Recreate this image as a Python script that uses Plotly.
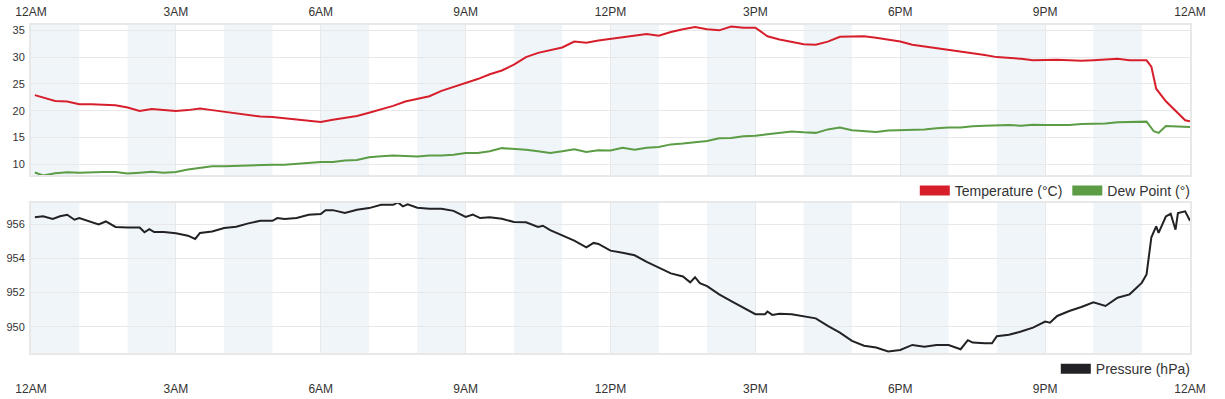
import plotly.graph_objects as go

# ---------------- data ----------------
tick_hours = [0, 3, 6, 9, 12, 15, 18, 21, 24]
tick_labels = ["12AM", "3AM", "6AM", "9AM", "12PM", "3PM", "6PM", "9PM", "12AM"]
shaded_hours = [0, 2, 4, 6, 8, 10, 12, 14, 16, 18, 20, 22]

temp_hours = [0.08, 0.25, 0.5, 0.75, 1.0, 1.25, 1.5, 1.75, 2.0, 2.25, 2.5, 2.75, 3.0, 3.25, 3.5, 3.75,
              4.0, 4.25, 4.5, 4.75, 5.0, 5.25, 5.5, 5.75, 6.0, 6.25, 6.5, 6.75, 7.0, 7.25, 7.5, 7.75,
              8.0, 8.25, 8.5, 8.75, 9.0, 9.25, 9.5, 9.75, 10.0, 10.25, 10.5, 10.75, 11.0, 11.25, 11.5, 11.75,
              12.0, 12.25, 12.5, 12.75, 13.0, 13.25, 13.5, 13.75, 14.0, 14.25, 14.5, 14.75, 15.0, 15.25, 15.5, 15.75,
              16.0, 16.25, 16.5, 16.75, 17.0, 17.25, 17.5, 17.75, 18.0, 18.25, 18.5, 18.75, 19.0, 19.25, 19.5, 19.75,
              20.0, 20.25, 20.5, 20.75, 21.0, 21.25, 21.5, 21.75, 22.0, 22.25, 22.5, 22.75, 23.0, 23.1, 23.2, 23.3,
              23.5, 23.75, 23.9, 24.0]
temperature = [22.9, 22.4, 21.8, 21.7, 21.2, 21.2, 21.1, 21.0, 20.6, 19.95, 20.3, 20.1, 19.95, 20.1, 20.4, 20.1,
               19.8, 19.6, 19.3, 18.9, 18.8, 18.6, 18.3, 18.1, 17.9, 18.3, 18.6, 19.0, 19.6, 20.2, 20.9, 21.7,
               22.2, 22.7, 23.7, 24.4, 25.2, 25.9, 26.8, 27.5, 28.6, 30.0, 30.8, 31.3, 31.8, 32.9, 32.7, 33.1,
               33.4, 33.6, 33.9, 34.3, 34.0, 34.7, 35.2, 35.6, 35.2, 35.0, 35.7, 35.5, 35.5, 33.9, 33.3, 32.8,
               32.4, 32.3, 32.9, 33.8, 33.9, 33.9, 33.6, 33.3, 32.9, 32.3, 32.0, 31.6, 31.3, 31.0, 30.7, 30.4,
               30.0, 29.9, 29.7, 29.4, 29.5, 29.5, 29.4, 29.3, 29.4, 29.5, 29.7, 29.4, 29.5, 29.4, 28.2, 24.1,
               21.75, 19.45, 18.2, 18.0]

dew_hours = [0.08, 0.25, 0.5, 0.75, 1.0, 1.25, 1.5, 1.75, 2.0, 2.25, 2.5, 2.75, 3.0, 3.25, 3.5, 3.75,
             4.0, 4.25, 4.5, 4.75, 5.0, 5.25, 5.5, 5.75, 6.0, 6.25, 6.5, 6.75, 7.0, 7.25, 7.5, 7.75,
             8.0, 8.25, 8.5, 8.75, 9.0, 9.25, 9.5, 9.75, 10.0, 10.25, 10.5, 10.75, 11.0, 11.25, 11.5, 11.75,
             12.0, 12.25, 12.5, 12.75, 13.0, 13.25, 13.5, 13.75, 14.0, 14.25, 14.5, 14.75, 15.0, 15.25, 15.5, 15.75,
             16.0, 16.25, 16.5, 16.75, 17.0, 17.25, 17.5, 17.75, 18.0, 18.25, 18.5, 18.75, 19.0, 19.25, 19.5, 19.75,
             20.0, 20.25, 20.5, 20.75, 21.0, 21.25, 21.5, 21.75, 22.0, 22.25, 22.5, 22.75, 23.0, 23.1, 23.25, 23.35,
             23.5, 23.75, 24.0]
dew_point = [8.45, 7.9, 8.3, 8.5, 8.4, 8.5, 8.55, 8.55, 8.25, 8.4, 8.6, 8.4, 8.55, 9.0, 9.3, 9.6,
             9.6, 9.7, 9.8, 9.8, 9.9, 9.9, 10.05, 10.25, 10.4, 10.4, 10.7, 10.8, 11.3, 11.5, 11.6, 11.55,
             11.45, 11.6, 11.6, 11.75, 12.1, 12.1, 12.4, 13.0, 12.9, 12.7, 12.4, 12.1, 12.4, 12.8, 12.3, 12.6,
             12.55, 13.05, 12.7, 13.05, 13.2, 13.7, 13.85, 14.1, 14.35, 14.85, 14.9, 15.2, 15.3, 15.6, 15.85, 16.1,
             15.95, 15.85, 16.5, 16.85, 16.35, 16.2, 16.0, 16.3, 16.35, 16.5, 16.5, 16.7, 16.85, 16.85, 17.1, 17.2,
             17.3, 17.3, 17.2, 17.35, 17.3, 17.3, 17.3, 17.5, 17.6, 17.6, 17.85, 17.85, 17.95, 17.95, 16.15, 15.85,
             17.15, 17.1, 16.95]

pres_hours = [0.08, 0.25, 0.45, 0.6, 0.75, 0.9, 1.0, 1.25, 1.4, 1.55, 1.75, 2.0, 2.25, 2.35, 2.45, 2.55,
              2.75, 3.0, 3.25, 3.4, 3.5, 3.75, 4.0, 4.25, 4.5, 4.75, 5.0, 5.1, 5.25, 5.5, 5.75, 6.0,
              6.1, 6.25, 6.5, 6.75, 7.0, 7.25, 7.5, 7.6, 7.7, 7.8, 8.0, 8.25, 8.5, 8.75, 9.0, 9.15,
              9.3, 9.5, 9.75, 10.0, 10.25, 10.5, 10.6, 10.75, 11.0, 11.25, 11.5, 11.65, 11.75, 12.0, 12.25, 12.5,
              12.75, 13.0, 13.25, 13.5, 13.65, 13.75, 13.85, 14.0, 14.25, 14.5, 14.75, 15.0, 15.2, 15.25, 15.35, 15.5,
              15.75, 16.0, 16.25, 16.5, 16.75, 17.0, 17.25, 17.5, 17.75, 18.0, 18.25, 18.5, 18.75, 19.0, 19.25, 19.4,
              19.5, 19.75, 19.9, 20.0, 20.25, 20.5, 20.75, 21.0, 21.1, 21.25, 21.5, 21.75, 22.0, 22.25, 22.5, 22.75,
              23.0, 23.1, 23.2, 23.3, 23.35, 23.5, 23.6, 23.7, 23.75, 23.9, 24.0]
pressure = [956.39, 956.45, 956.3, 956.45, 956.54, 956.25, 956.35, 956.12, 955.98, 956.15, 955.83, 955.8, 955.8, 955.52, 955.7, 955.53,
            955.53, 955.46, 955.32, 955.13, 955.48, 955.57, 955.77, 955.84, 956.04, 956.19, 956.19, 956.35, 956.3, 956.35, 956.54, 956.58,
            956.81, 956.81, 956.64, 956.83, 956.93, 957.12, 957.12, 957.26, 957.03, 957.15, 956.95, 956.89, 956.89, 956.77, 956.41, 956.55,
            956.35, 956.39, 956.31, 956.12, 956.1, 955.83, 955.9, 955.64, 955.34, 955.03, 954.64, 954.9, 954.84, 954.45, 954.32, 954.18,
            953.79, 953.44, 953.12, 952.94, 952.6, 952.9, 952.55, 952.38, 951.9, 951.51, 951.12, 950.74, 950.74, 950.9, 950.7, 950.77,
            950.74, 950.6, 950.5, 950.06, 949.67, 949.19, 948.9, 948.8, 948.57, 948.66, 948.95, 948.84, 948.95, 948.95, 948.7, 949.23,
            949.09, 949.05, 949.05, 949.46, 949.54, 949.73, 949.96, 950.31, 950.25, 950.64, 950.93, 951.16, 951.43, 951.22, 951.7, 951.9,
            952.57, 953.06, 955.23, 955.86, 955.48, 956.44, 956.6, 955.67, 956.64, 956.74, 956.19]

# ---------------- styles ----------------
RED = "#d71f2c"
GREEN = "#5b9c45"
BLACK = "#222226"
BAND = "#f0f5fa"
GRID = "#e8e8e8"
FONT = "Arial, Liberation Sans, sans-serif"
TXT = "#333333"

fig = go.Figure()

fig.add_trace(go.Scatter(x=temp_hours, y=temperature, mode="lines", line=dict(color=RED, width=2),
                         name="Temperature (°C)", showlegend=False, xaxis="x", yaxis="y"))
fig.add_trace(go.Scatter(x=dew_hours, y=dew_point, mode="lines", line=dict(color=GREEN, width=2),
                         name="Dew Point (°)", showlegend=False, xaxis="x", yaxis="y"))
fig.add_trace(go.Scatter(x=pres_hours, y=pressure, mode="lines", line=dict(color=BLACK, width=2),
                         name="Pressure (hPa)", showlegend=False, xaxis="x2", yaxis="y2"))

# legend swatches
fig.add_trace(go.Scatter(x=[None], y=[None], mode="lines", line=dict(color=RED, width=10),
                         name="Temperature (°C)", legend="legend", xaxis="x", yaxis="y"))
fig.add_trace(go.Scatter(x=[None], y=[None], mode="lines", line=dict(color=GREEN, width=10),
                         name="Dew Point (°)", legend="legend", xaxis="x", yaxis="y"))
fig.add_trace(go.Scatter(x=[None], y=[None], mode="lines", line=dict(color=BLACK, width=10),
                         name="Pressure (hPa)", legend="legend2", xaxis="x2", yaxis="y2"))

shapes = []
for h in shaded_hours:
    for xr, yr in (("x", "y domain"), ("x2", "y2 domain")):
        shapes.append(dict(type="rect", xref=xr, yref=yr,
                           x0=h, x1=h + 1, y0=0, y1=1, fillcolor=BAND, line=dict(width=0), layer="below"))

axis_common = dict(range=[0, 24], tickvals=tick_hours, ticktext=tick_labels, showgrid=True,
                   gridcolor=GRID, gridwidth=1, zeroline=False, showline=True, linecolor=GRID,
                   linewidth=2, mirror=True, tickfont=dict(size=12, color=TXT, family=FONT),
                   ticks="outside", tickcolor="rgba(0,0,0,0)", automargin=False)

yaxis_common = dict(showgrid=True, gridcolor=GRID, zeroline=False, showline=True, linecolor=GRID,
                    linewidth=2, mirror=True, tickfont=dict(size=11, color=TXT, family=FONT),
                    ticks="outside", ticklen=2, tickcolor="rgba(0,0,0,0)", automargin=False)

fig.update_layout(
    width=1225, height=399,
    margin=dict(l=31, r=35, t=25, b=46),
    paper_bgcolor="white", plot_bgcolor="white",
    font=dict(family=FONT, color=TXT),
    hovermode=False,
    xaxis=dict(axis_common, side="top", anchor="y", ticklen=2),
    yaxis=dict(yaxis_common, domain=[0.543, 1.0], range=[8, 36], tickvals=[10, 15, 20, 25, 30, 35]),
    xaxis2=dict(axis_common, side="bottom", anchor="y2", ticklen=24),
    yaxis2=dict(yaxis_common, domain=[0.0, 0.458], range=[948.48, 957.24], tickvals=[950, 952, 954, 956]),
    legend=dict(orientation="h", x=1.005, xanchor="right", y=0.494, yanchor="middle",
                font=dict(size=14, color=TXT, family=FONT), bgcolor="rgba(0,0,0,0)"),
    legend2=dict(orientation="h", x=1.005, xanchor="right", y=-0.049, yanchor="middle",
                 font=dict(size=14, color=TXT, family=FONT), bgcolor="rgba(0,0,0,0)"),
    shapes=shapes,
)

fig.write_html("out.html", config={"displayModeBar": False},
               post_script="document.body.style.margin='0';document.body.style.padding='0';")
